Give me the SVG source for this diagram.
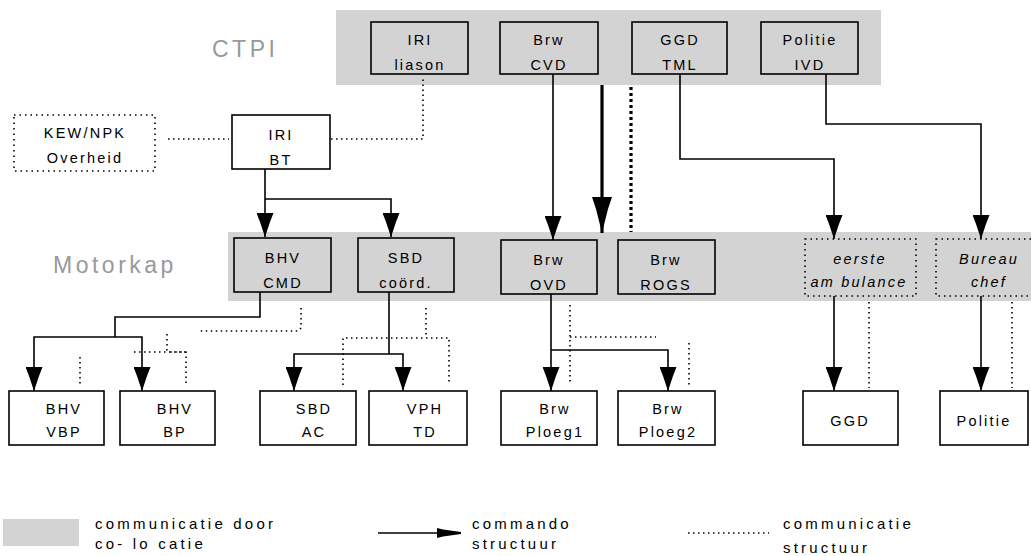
<svg xmlns="http://www.w3.org/2000/svg" width="1031" height="556" viewBox="0 0 1031 556">
<style>
.band{fill:#d3d3d3}
.box{fill:none;stroke:#000;stroke-width:1.6}
.wbox{fill:#fff;stroke:#000;stroke-width:1.6}
.dbox{fill:none;stroke:#000;stroke-width:1.6;stroke-dasharray:1.5 4}
.t{font-family:"Liberation Sans",Arial,sans-serif;font-size:14.5px;letter-spacing:2.2px;text-anchor:middle;fill:#000}
.ti{font-family:"Liberation Sans",Arial,sans-serif;font-size:14.5px;font-style:italic;letter-spacing:2.2px;text-anchor:middle;fill:#000}
.lbl{font-family:"Liberation Sans",Arial,sans-serif;font-size:23px;letter-spacing:3.5px;fill:#999}
.lg{font-family:"Liberation Sans",Arial,sans-serif;font-size:15px;letter-spacing:3.2px;fill:#000}
.cmd{fill:none;stroke:#000;stroke-width:1.6}
.com{fill:none;stroke:#000;stroke-width:1.6;stroke-dasharray:1.5 3.5}
</style>
<defs>
<marker id="ah" viewBox="0 0 24 17" refX="24" refY="8.5" markerWidth="24" markerHeight="17" markerUnits="userSpaceOnUse" orient="auto">
<path d="M0,0 L9,3.5 L24,8.5 L9,13.5 L0,17 z" fill="#000"/>
</marker>
<marker id="ahb" viewBox="0 0 36 20" refX="36" refY="10" markerWidth="36" markerHeight="20" markerUnits="userSpaceOnUse" orient="auto">
<path d="M0,0 L12,4 L36,10 L12,16 L0,20 z" fill="#000"/>
</marker>
<marker id="ahs" viewBox="0 0 24 10" refX="24" refY="5" markerWidth="24" markerHeight="10" markerUnits="userSpaceOnUse" orient="auto">
<path d="M0,0 L6,1.5 L24,4 L24,6 L6,8.5 L0,10 z" fill="#000"/>
</marker>
</defs>
<rect x="0" y="0" width="1031" height="556" fill="#fff"/>
<g id="bands">
<rect class="band" x="336" y="10" width="545" height="75"/>
<rect class="band" x="228" y="232" width="803" height="69"/>
<text class="lbl" x="212" y="57">CTPI</text>
<text class="lbl" x="53" y="273">Motorkap</text>
</g>
<g id="connectors">
<path class="cmd" d="M265,169 V237" marker-end="url(#ah)"/>
<path class="cmd" d="M265,199 H391 V237" marker-end="url(#ah)"/>
<path class="cmd" d="M553,74 V240" marker-end="url(#ah)"/>
<path class="cmd" d="M602,85 V233" style="stroke-width:3.2" marker-end="url(#ahb)"/>
<path class="com" d="M631,87 V232" style="stroke-width:3.2;stroke-dasharray:3 3"/>
<path class="cmd" d="M680,74 V159 H834 V239" marker-end="url(#ah)"/>
<path class="cmd" d="M826,74 V124 H981 V239" marker-end="url(#ah)"/>
<path class="cmd" d="M260,292 V317 H115 V337"/>
<path class="cmd" d="M115,337 H34 V391" marker-end="url(#ah)"/>
<path class="cmd" d="M115,337 H142 V391" marker-end="url(#ah)"/>
<path class="cmd" d="M389,292 V354"/>
<path class="cmd" d="M389,354 H294 V391" marker-end="url(#ah)"/>
<path class="cmd" d="M389,354 H403 V391" marker-end="url(#ah)"/>
<path class="cmd" d="M551,294 V391" marker-end="url(#ah)"/>
<path class="cmd" d="M551,350 H668 V391" marker-end="url(#ah)"/>
<path class="cmd" d="M834,296 V391" marker-end="url(#ah)"/>
<path class="cmd" d="M981,296 V391" marker-end="url(#ah)"/>
<path class="com" d="M168,139 H229"/>
<path class="com" d="M331,139 H423 V78"/>
<path class="com" d="M301,308 V328 L298,331 H199"/>
<path class="com" d="M167,334 V350 L170,352 H186 V384"/>
<path class="com" d="M134,352 H186"/>
<path class="com" d="M80,357 V384"/>
<path class="com" d="M426,308 V337"/>
<path class="com" d="M343,385 V338 H449 V385"/>
<path class="com" d="M570,305 V383"/>
<path class="com" d="M570,337 H656"/>
<path class="com" d="M689,343 V385"/>
<path class="com" d="M869,302 V388"/>
<path class="com" d="M1012,302 V388"/>
</g>
<g id="n-kew"><rect class="dbox" x="14" y="115" width="141" height="56"/><text class="t" x="85" y="138">KEW/NPK</text><text class="t" x="85" y="163">Overheid</text></g>
<g id="n-iribt"><rect class="wbox" x="232" y="115" width="98" height="54"/><text class="t" x="281" y="140">IRI</text><text class="t" x="281" y="165">BT</text></g>
<g id="n-iriliason"><rect class="box" x="371" y="22" width="97" height="52"/><text class="t" x="420" y="45">IRI</text><text class="t" x="420" y="70">liason</text></g>
<g id="n-brwcvd"><rect class="box" x="500" y="22" width="98" height="52"/><text class="t" x="549" y="45">Brw</text><text class="t" x="549" y="70">CVD</text></g>
<g id="n-ggdtml"><rect class="box" x="632" y="22" width="95" height="52"/><text class="t" x="680" y="45">GGD</text><text class="t" x="680" y="70">TML</text></g>
<g id="n-politieivd"><rect class="box" x="761" y="22" width="97" height="52"/><text class="t" x="810" y="45">Politie</text><text class="t" x="810" y="70">IVD</text></g>
<g id="n-bhvcmd"><rect class="box" x="234" y="238" width="97" height="54"/><text class="t" x="283" y="263">BHV</text><text class="t" x="283" y="288">CMD</text></g>
<g id="n-sbdcoord"><rect class="box" x="358" y="238" width="96" height="54"/><text class="t" x="406" y="263">SBD</text><text class="t" x="406" y="288">coörd.</text></g>
<g id="n-brwovd"><rect class="box" x="501" y="240" width="96" height="54"/><text class="t" x="549" y="265">Brw</text><text class="t" x="549" y="290">OVD</text></g>
<g id="n-brwrogs"><rect class="box" x="618" y="240" width="97" height="54"/><text class="t" x="666" y="265">Brw</text><text class="t" x="666" y="290">ROGS</text></g>
<g id="n-ambulance"><rect class="dbox" x="805" y="239" width="111" height="57"/><text class="ti" x="860" y="264">eerste</text><text class="ti" x="859" y="287">am bulance</text></g>
<g id="n-bureauchef"><rect class="dbox" x="936" y="239" width="100" height="57"/><text class="ti" x="989" y="264">Bureau</text><text class="ti" x="989" y="287">chef</text></g>
<g id="n-bhvvbp"><rect class="wbox" x="9" y="391" width="95" height="54"/><text class="t" x="64" y="414">BHV</text><text class="t" x="64" y="437">VBP</text></g>
<g id="n-bhvbp"><rect class="wbox" x="120" y="391" width="95" height="54"/><text class="t" x="175" y="414">BHV</text><text class="t" x="175" y="437">BP</text></g>
<g id="n-sbdac"><rect class="wbox" x="260" y="391" width="96" height="54"/><text class="t" x="314" y="414">SBD</text><text class="t" x="314" y="437">AC</text></g>
<g id="n-vphtd"><rect class="wbox" x="369" y="391" width="98" height="54"/><text class="t" x="425" y="414">VPH</text><text class="t" x="425" y="437">TD</text></g>
<g id="n-ploeg1"><rect class="wbox" x="501" y="391" width="96" height="54"/><text class="t" x="555" y="414">Brw</text><text class="t" x="555" y="437">Ploeg1</text></g>
<g id="n-ploeg2"><rect class="wbox" x="618" y="391" width="97" height="54"/><text class="t" x="668" y="414">Brw</text><text class="t" x="668" y="437">Ploeg2</text></g>
<g id="n-ggd"><rect class="wbox" x="803" y="391" width="95" height="54"/><text class="t" x="850" y="426">GGD</text></g>
<g id="n-politie"><rect class="wbox" x="940" y="391" width="88" height="54"/><text class="t" x="984" y="426">Politie</text></g>
<g id="legend">
<rect class="band" x="3" y="519" width="76" height="27"/>
<text class="lg" x="95" y="529">communicatie door</text>
<text class="lg" x="95" y="549">co- lo catie</text>
<path class="cmd" d="M378,533 H461" marker-end="url(#ahs)"/>
<text class="lg" x="472" y="529">commando</text>
<text class="lg" x="472" y="549">structuur</text>
<path class="com" d="M688,533 H769"/>
<text class="lg" x="783" y="529">communicatie</text>
<text class="lg" x="783" y="553">structuur</text>
</g>
</svg>
